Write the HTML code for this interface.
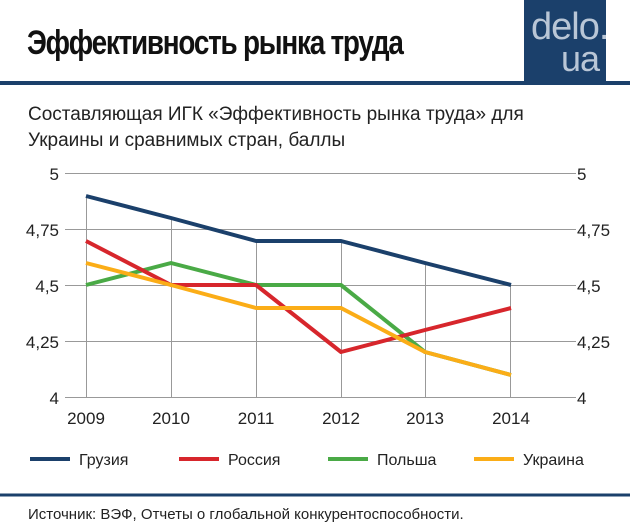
<!DOCTYPE html>
<html><head><meta charset="utf-8"><style>
body{margin:0;width:630px;height:527px;background:#fff;font-family:"Liberation Sans",sans-serif;position:relative;overflow:hidden}
.t{position:absolute;white-space:nowrap}
</style></head><body>
<div class="t" style="left:27px;top:24px;font-size:34px;font-weight:bold;letter-spacing:-1.5px;transform:scaleX(0.82);transform-origin:left;color:#111">Эффективность рынка труда</div>
<div style="position:absolute;left:524px;top:0;width:82px;height:81px;background:#1b406b"></div>
<div class="t" style="left:531px;top:6px;font-size:38px;color:#b9c6d6;font-weight:300;letter-spacing:-1px">delo.</div>
<div class="t" style="left:561px;top:38px;font-size:36px;color:#b9c6d6;letter-spacing:-1px">ua</div>
<div style="position:absolute;left:0;top:81px;width:630px;height:4px;background:#1b406b"></div>
<div class="t" style="left:28px;top:102px;font-size:19px;color:#222;line-height:26px">Составляющая ИГК «Эффективность рынка труда» для<br>Украины и сравнимых стран, баллы</div>
<svg style="position:absolute;left:0;top:0" width="630" height="527">
<g stroke="#999" stroke-width="1">
<line x1="65" y1="173.5" x2="576" y2="173.5"/><line x1="65" y1="229.5" x2="576" y2="229.5"/><line x1="65" y1="285.5" x2="576" y2="285.5"/><line x1="65" y1="341.5" x2="576" y2="341.5"/><line x1="65" y1="397.5" x2="576" y2="397.5"/>
<line x1="86.5" y1="196" x2="86.5" y2="397"/><line x1="171.5" y1="218" x2="171.5" y2="397"/><line x1="256.5" y1="240" x2="256.5" y2="397"/><line x1="341.5" y1="240" x2="341.5" y2="397"/><line x1="425.5" y1="263" x2="425.5" y2="397"/><line x1="510.5" y1="285" x2="510.5" y2="397"/>
</g>
<g font-size="17" fill="#222" font-family="Liberation Sans,sans-serif">
<text x="59" y="180" text-anchor="end">5</text><text x="59" y="236" text-anchor="end">4,75</text><text x="59" y="292" text-anchor="end">4,5</text><text x="59" y="348" text-anchor="end">4,25</text><text x="59" y="404" text-anchor="end">4</text>
<text x="577" y="180">5</text><text x="577" y="236">4,75</text><text x="577" y="292">4,5</text><text x="577" y="348">4,25</text><text x="577" y="404">4</text>
<text x="86" y="424" text-anchor="middle">2009</text><text x="171" y="424" text-anchor="middle">2010</text><text x="256" y="424" text-anchor="middle">2011</text><text x="341" y="424" text-anchor="middle">2012</text><text x="425" y="424" text-anchor="middle">2013</text><text x="511" y="424" text-anchor="middle">2014</text>
</g>
<g fill="none" stroke-width="4" stroke-linejoin="round">
<polyline stroke="#1b406b" points="86,196 171,218 256,241 341,241 425,263 511,285"/>
<polyline stroke="#4aaa46" points="86,285 171,263 256,285 341,285 425,352 511,375"/>
<polyline stroke="#d7262c" points="86,241 171,285 256,285 341,352 425,330 511,308"/>
<polyline stroke="#fbad17" points="86,263 171,285 256,308 341,308 425,352 511,375"/>
</g>
<g stroke-width="4"><line x1="30" y1="459" x2="70" y2="459" stroke="#1b406b"/><line x1="179" y1="459" x2="219" y2="459" stroke="#d7262c"/><line x1="328" y1="459" x2="368" y2="459" stroke="#4aaa46"/><line x1="474" y1="459" x2="514" y2="459" stroke="#fbad17"/></g>
<g font-size="16" fill="#222" font-family="Liberation Sans,sans-serif">
<text x="79" y="465">Грузия</text><text x="228" y="465">Россия</text><text x="377" y="465">Польша</text><text x="523" y="465">Украина</text></g>
<line x1="0" y1="495" x2="630" y2="495" stroke="#1b406b" stroke-width="3"/>
<text x="28" y="519" font-size="15" fill="#222" font-family="Liberation Sans,sans-serif">Источник: ВЭФ, Отчеты о глобальной конкурентоспособности.</text>
</svg>
</body></html>
